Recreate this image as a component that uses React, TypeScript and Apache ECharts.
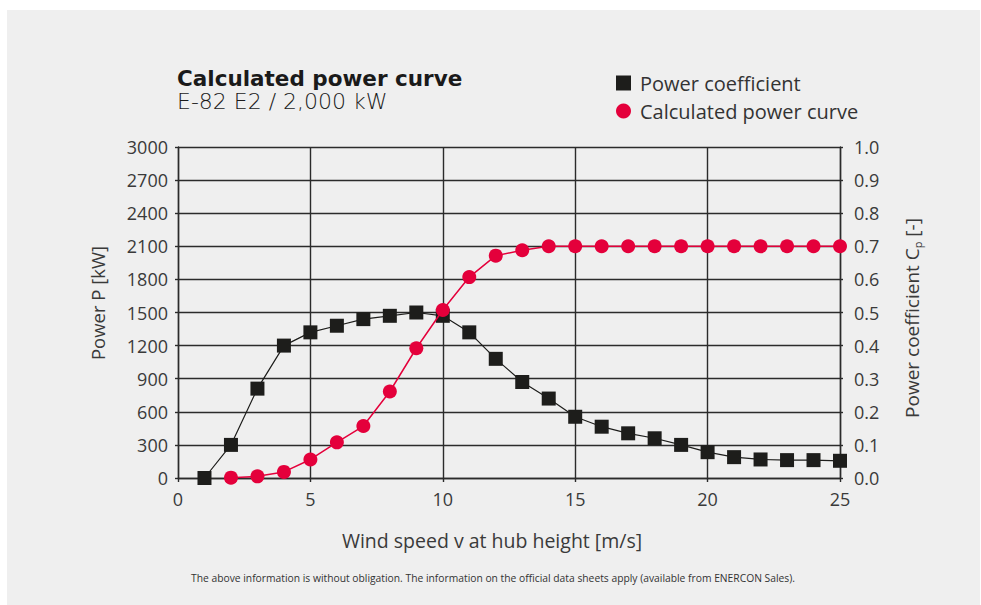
import React, { useEffect, useRef } from "react";
import * as echarts from "echarts";

const windSpeed = [1, 2, 3, 4, 5, 6, 7, 8, 9, 10, 11, 12, 13, 14, 15, 16, 17, 18, 19, 20, 21, 22, 23, 24, 25];
const powerCoefficient = [0.0, 0.1, 0.27, 0.4, 0.44, 0.46, 0.48, 0.49, 0.5, 0.49, 0.44, 0.36, 0.29, 0.24, 0.185, 0.155, 0.135, 0.12, 0.1, 0.078, 0.063, 0.056, 0.054, 0.054, 0.052];
const powerSpeed = [2, 3, 4, 5, 6, 7, 8, 9, 10, 11, 12, 13, 14, 15, 16, 17, 18, 19, 20, 21, 22, 23, 24, 25];
const powerValues = [3, 15, 55, 168, 323, 471, 784, 1176, 1523, 1821, 2015, 2064, 2100, 2100, 2100, 2100, 2100, 2100, 2100, 2100, 2100, 2100, 2100, 2100];

const FONT = "Open Sans";
const BLACK = "#1d1d1b";
const RED = "#e4003b";
const GRID = "#2b2b2b";
const TXT = "#3a3a3a";

export default function App() {
  const ref = useRef<HTMLDivElement>(null);
  useEffect(() => {
    const chart = echarts.init(ref.current!, null, { renderer: "svg" });
    chart.setOption({
      animation: false,
      backgroundColor: "#ffffff",
      textStyle: { fontFamily: FONT },
      legend: {
        orient: "vertical",
        left: 611,
        top: 68,
        itemWidth: 15,
        itemHeight: 15,
        itemGap: 8,
        textStyle: { fontFamily: FONT, fontSize: 20, color: "#333", padding: [0, 0, 0, 4] },
        data: [
          { name: "Power coefficient", icon: "rect" },
          { name: "Calculated power curve", icon: "circle" },
        ],
      },
      graphic: [
        {
          type: "rect",
          z: -10,
          silent: true,
          shape: { x: 7, y: 10, width: 973, height: 595 },
          style: { fill: "#efefef" },
        },
        {
          type: "text",
          x: 177,
          y: 78,
          style: {
            text: "Calculated power curve",
            fontFamily: "DejaVu Sans",
            fontSize: 21.5,
            fontWeight: "bold",
            fill: "#1a1a1a",
            align: "left",
            verticalAlign: "middle",
          },
        },
        {
          type: "text",
          x: 177,
          y: 101,
          style: {
            text: "E-82 E2 / 2,000 kW",
            fontFamily: "DejaVu Sans",
            fontSize: 22,
            fontWeight: 200,
            fill: "#1a1a1a",
            align: "left",
            verticalAlign: "middle",
          },
        },
        {
          type: "text",
          x: 97,
          y: 303,
          rotation: Math.PI / 2,
          style: {
            text: "Power P [kW]",
            fontFamily: FONT,
            fontSize: 18.5,
            fill: TXT,
            align: "center",
            verticalAlign: "middle",
          },
        },
        {
          type: "text",
          x: 912,
          y: 318,
          rotation: Math.PI / 2,
          style: {
            text: "{a|Power coefficient C}{s|p}{a| [-]}",
            align: "center",
            verticalAlign: "middle",
            rich: {
              a: { fontFamily: FONT, fontSize: 19, fill: TXT, color: TXT },
              s: { fontFamily: FONT, fontSize: 11, fill: TXT, color: TXT, verticalAlign: "bottom", padding: [10, 0, 0, 0] },
            },
          },
        },
        {
          type: "text",
          x: 492,
          y: 540,
          style: {
            text: "Wind speed v at hub height [m/s]",
            fontFamily: FONT,
            fontSize: 19.5,
            fill: TXT,
            align: "center",
            verticalAlign: "middle",
          },
        },
        {
          type: "text",
          x: 493,
          y: 578,
          style: {
            text: "The above information is without obligation. The information on the official data sheets apply (available from ENERCON Sales).",
            fontFamily: FONT,
            fontSize: 10.3,
            fill: "#333",
            align: "center",
            verticalAlign: "middle",
          },
        },
      ],
      grid: { left: 178, right: 141, top: 147, bottom: 127 },
      xAxis: {
        type: "value",
        min: 0,
        max: 25,
        interval: 5,
        axisLine: { show: true, lineStyle: { color: GRID, width: 1.4 } },
        axisTick: { show: true, length: 4, lineStyle: { color: GRID, width: 1.4 } },
        axisLabel: { fontFamily: FONT, fontSize: 18, color: TXT, margin: 12 },
        splitLine: { show: true, lineStyle: { color: GRID, width: 1.4 } },
      },
      yAxis: [
        {
          type: "value",
          min: 0,
          max: 3000,
          interval: 300,
          axisLine: { show: true, lineStyle: { color: GRID, width: 1.4 } },
          axisTick: { show: true, length: 3, lineStyle: { color: GRID, width: 1.4 } },
          axisLabel: { fontFamily: FONT, fontSize: 18, color: TXT, margin: 10, formatter: (v: number) => String(v) },
          splitLine: { show: true, lineStyle: { color: GRID, width: 1.4 } },
        },
        {
          type: "value",
          min: 0,
          max: 1,
          interval: 0.1,
          position: "right",
          axisLine: { show: true, lineStyle: { color: GRID, width: 1.4 } },
          axisTick: { show: true, length: 3, lineStyle: { color: GRID, width: 1.4 } },
          axisLabel: {
            fontFamily: FONT,
            fontSize: 18,
            color: TXT,
            margin: 14,
            formatter: (v: number) => v.toFixed(1),
          },
          splitLine: { show: false },
        },
      ],
      series: [
        {
          name: "Power coefficient",
          type: "line",
          yAxisIndex: 1,
          symbol: "rect",
          symbolSize: 14,
          data: windSpeed.map((x, i) => [x, powerCoefficient[i]]),
          itemStyle: { color: BLACK },
          lineStyle: { color: BLACK, width: 1.2 },
          z: 3,
        },
        {
          name: "Calculated power curve",
          type: "line",
          yAxisIndex: 0,
          symbol: "circle",
          symbolSize: 14,
          data: powerSpeed.map((x, i) => [x, powerValues[i]]),
          itemStyle: { color: RED },
          lineStyle: { color: RED, width: 1.5 },
          z: 4,
        },
      ],
    });
    return () => chart.dispose();
  }, []);
  return (
    <div style={{ position: "fixed", left: 0, top: 0, width: 981, height: 605, background: "#fff" }}>
      <div ref={ref} style={{ width: 981, height: 605 }} />
    </div>
  );
}
